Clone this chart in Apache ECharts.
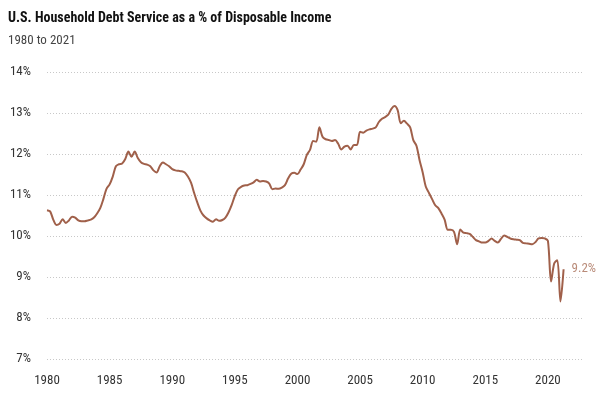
<!DOCTYPE html>
<html>
<head>
<meta charset="utf-8">
<script src="https://cdn.jsdelivr.net/npm/echarts@6/dist/echarts.min.js"></script>
<style>
  html, body { margin: 0; padding: 0; background: #fff; }
  #chart { width: 599px; height: 399px; }
</style>
</head>
<body>
<div id="chart"></div>
<script>
// quarterly debt service ratio, 1980 Q1 .. 2021 Q2
var startYear = 1980;
var ratio = [
  10.63, 10.60, 10.40, 10.27,  // 1980
  10.30, 10.41, 10.32, 10.38,  // 1981
  10.47, 10.45, 10.38, 10.36,  // 1982
  10.36, 10.38, 10.40, 10.45,  // 1983
  10.55, 10.68, 10.90, 11.15,  // 1984
  11.26, 11.45, 11.70, 11.75,  // 1985
  11.77, 11.88, 12.06, 11.93,  // 1986
  12.06, 11.90, 11.80, 11.76,  // 1987
  11.74, 11.70, 11.60, 11.55,  // 1988
  11.70, 11.79, 11.75, 11.70,  // 1989
  11.63, 11.60, 11.59, 11.58,  // 1990
  11.55, 11.45, 11.30, 11.05,  // 1991
  10.82, 10.62, 10.50, 10.43,  // 1992
  10.38, 10.35, 10.41, 10.37,  // 1993
  10.39, 10.45, 10.58, 10.76,  // 1994
  10.98, 11.14, 11.20, 11.23,  // 1995
  11.24, 11.27, 11.31, 11.37,  // 1996
  11.33, 11.34, 11.33, 11.28,  // 1997
  11.14, 11.16, 11.15, 11.18,  // 1998
  11.24, 11.40, 11.52, 11.54,  // 1999
  11.51, 11.62, 11.75, 11.98,  // 2000
  12.10, 12.32, 12.30, 12.65,  // 2001
  12.42, 12.36, 12.34, 12.32,  // 2002
  12.34, 12.25, 12.11, 12.18,  // 2003
  12.20, 12.11, 12.22, 12.22,  // 2004
  12.54, 12.52, 12.57, 12.60,  // 2005
  12.62, 12.65, 12.78, 12.86,  // 2006
  12.90, 12.96, 13.10, 13.17,  // 2007
  13.07, 12.75, 12.81, 12.74,  // 2008
  12.65, 12.34, 12.20, 11.85,  // 2009
  11.55, 11.20, 11.05, 10.90,  // 2010
  10.75, 10.68, 10.55, 10.40,  // 2011
  10.15, 10.15, 10.10, 9.80,   // 2012
  10.16, 10.08, 10.07, 10.05,  // 2013
  9.98, 9.90, 9.87, 9.84,      // 2014
  9.84, 9.88, 9.94, 9.88,      // 2015
  9.84, 9.93, 10.01, 9.98,     // 2016
  9.94, 9.92, 9.91, 9.90,      // 2017
  9.83, 9.82, 9.81, 9.80,      // 2018
  9.85, 9.94, 9.95, 9.94,      // 2019
  9.88, 8.89, 9.33, 9.41,      // 2020
  8.40, 9.19                   // 2021
];
var yearTicks = [1980, 1985, 1990, 1995, 2000, 2005, 2010, 2015, 2020];

var points = ratio.map(function (v, i) { return [startYear + i / 4, v]; });
var lastValue = ratio[ratio.length - 1];

var font = "'Liberation Sans Narrow', 'Roboto Condensed', 'Arial Narrow', sans-serif";

var chart = echarts.init(document.getElementById('chart'));
chart.setOption({
  animation: false,
  title: [{
    text: 'U.S. Household Debt Service as a % of Disposable Income',
    left: 3,
    top: 6,
    textStyle: { fontFamily: font, fontSize: 14, fontWeight: 'bold', color: '#111' }
  }, {
    text: '1980 to 2021',
    left: 3,
    top: 29,
    textStyle: { fontFamily: font, fontSize: 13, fontWeight: 'normal', color: '#444' }
  }],
  grid: { left: 47, right: 16, top: 72, bottom: 40 },
  xAxis: {
    type: 'value',
    min: 1980,
    max: 2022.8,
    interval: 5,
    axisLine: { show: false },
    axisTick: { show: false },
    splitLine: { show: false },
    axisLabel: {
      margin: 15,
      fontFamily: font,
      fontSize: 13,
      color: '#333',
      showMaxLabel: false,
      formatter: function (v) { return yearTicks.indexOf(v) >= 0 ? String(v) : ''; }
    }
  },
  yAxis: {
    type: 'value',
    min: 7,
    max: 14,
    interval: 1,
    axisLine: { show: false },
    axisTick: { show: false },
    splitLine: { lineStyle: { color: '#c8c8c8', type: [1, 2], width: 1 } },
    axisLabel: {
      margin: 16,
      fontFamily: font,
      fontSize: 13,
      color: '#333',
      formatter: '{value}%'
    }
  },
  series: [{
    type: 'line',
    data: points,
    smooth: 0.3,
    symbol: 'none',
    lineStyle: { color: '#a0604a', width: 2 },
    endLabel: {
      show: true,
      distance: 8,
      fontFamily: font,
      fontSize: 13,
      color: '#b98b79',
      formatter: function () { return lastValue.toFixed(1) + '%'; }
    }
  }]
});
</script>
</body>
</html>
